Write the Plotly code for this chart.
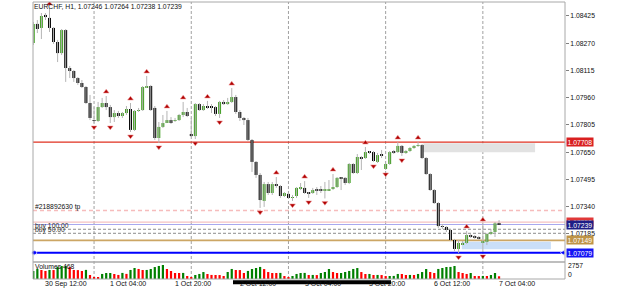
import plotly.graph_objects as go

W, H = 625, 289
FONT = "Liberation Sans, Arial, sans-serif"

title_text = "EURCHF, H1, 1.07246 1.07264 1.07238 1.07239"

# ---- hourly candles (30 Sep 09:00 ... 7 Oct 04:00) ----
opens = [1.08271, 1.08380, 1.08357, 1.08431, 1.08414, 1.08357, 1.08277, 1.08214, 1.08345, 1.08129,
         1.08112, 1.08072, 1.08044, 1.08021, 1.07930, 1.07833, 1.07828, 1.07907, 1.07930, 1.07907,
         1.07850, 1.07873, 1.07856, 1.07873, 1.07896, 1.07777, 1.07885, 1.07890, 1.08021, 1.08027,
         1.07902, 1.07731, 1.07794, 1.07822, 1.07833, 1.07828, 1.07833, 1.07862, 1.07879, 1.07754,
         1.07742, 1.07924, 1.07890, 1.07913, 1.07907, 1.07907, 1.07868, 1.07936, 1.07924, 1.07936,
         1.07964, 1.07879, 1.07845, 1.07833, 1.07720, 1.07595, 1.07521, 1.07373, 1.07469, 1.07418,
         1.07469, 1.07458, 1.07401, 1.07413, 1.07390, 1.07401, 1.07441, 1.07447, 1.07418, 1.07418,
         1.07435, 1.07435, 1.07432, 1.07435, 1.07441, 1.07452, 1.07504, 1.07504, 1.07475, 1.07583,
         1.07532, 1.07623, 1.07617, 1.07651, 1.07651, 1.07595, 1.07634, 1.07555, 1.07583, 1.07651,
         1.07651, 1.07686, 1.07646, 1.07657, 1.07674, 1.07686, 1.07691, 1.07617, 1.07526, 1.07435,
         1.07361, 1.07230, 1.07225, 1.07208, 1.07151, 1.07100, 1.07128, 1.07134, 1.07179, 1.07168,
         1.07168, 1.07134, 1.07140, 1.07185, 1.07196, 1.07246]
highs = [1.08391, 1.08402, 1.08442, 1.08442, 1.08470, 1.08362, 1.08289, 1.08351, 1.08351, 1.08141,
         1.08118, 1.08078, 1.08061, 1.08027, 1.07976, 1.07907, 1.07936, 1.07959, 1.07970, 1.07919,
         1.07890, 1.07885, 1.07879, 1.07913, 1.07930, 1.07890, 1.07902, 1.08027, 1.08084, 1.08033,
         1.07913, 1.07822, 1.07862, 1.07885, 1.07850, 1.07845, 1.07868, 1.07936, 1.07902, 1.07845,
         1.07930, 1.07930, 1.07924, 1.07942, 1.07924, 1.07913, 1.07942, 1.07947, 1.07959, 1.08015,
         1.07976, 1.07890, 1.07850, 1.07845, 1.07725, 1.07600, 1.07532, 1.07481, 1.07481, 1.07481,
         1.07509, 1.07464, 1.07424, 1.07418, 1.07407, 1.07452, 1.07475, 1.07486, 1.07424, 1.07447,
         1.07452, 1.07458, 1.07481, 1.07492, 1.07526, 1.07509, 1.07509, 1.07509, 1.07589, 1.07589,
         1.07640, 1.07629, 1.07680, 1.07657, 1.07657, 1.07646, 1.07663, 1.07589, 1.07657, 1.07663,
         1.07708, 1.07691, 1.07663, 1.07680, 1.07691, 1.07708, 1.07697, 1.07623, 1.07532, 1.07441,
         1.07367, 1.07242, 1.07230, 1.07213, 1.07157, 1.07151, 1.07145, 1.07202, 1.07185, 1.07179,
         1.07174, 1.07242, 1.07191, 1.07213, 1.07253, 1.07264]
lows = [1.08260, 1.08328, 1.08294, 1.08402, 1.08334, 1.08266, 1.08163, 1.08203, 1.08050, 1.08072,
        1.08050, 1.08033, 1.08015, 1.07924, 1.07833, 1.07816, 1.07822, 1.07902, 1.07890, 1.07816,
        1.07822, 1.07845, 1.07845, 1.07862, 1.07765, 1.07771, 1.07879, 1.07885, 1.08015, 1.07885,
        1.07720, 1.07703, 1.07788, 1.07816, 1.07811, 1.07822, 1.07828, 1.07850, 1.07850, 1.07737,
        1.07725, 1.07885, 1.07885, 1.07896, 1.07873, 1.07856, 1.07845, 1.07919, 1.07919, 1.07930,
        1.07868, 1.07828, 1.07805, 1.07714, 1.07538, 1.07504, 1.07333, 1.07339, 1.07407, 1.07407,
        1.07447, 1.07390, 1.07395, 1.07384, 1.07373, 1.07390, 1.07435, 1.07413, 1.07390, 1.07413,
        1.07407, 1.07418, 1.07387, 1.07430, 1.07435, 1.07447, 1.07435, 1.07464, 1.07469, 1.07526,
        1.07526, 1.07549, 1.07612, 1.07640, 1.07595, 1.07589, 1.07617, 1.07549, 1.07578, 1.07640,
        1.07646, 1.07629, 1.07640, 1.07651, 1.07669, 1.07680, 1.07612, 1.07521, 1.07430, 1.07356,
        1.07219, 1.07213, 1.07196, 1.07145, 1.07088, 1.07077, 1.07122, 1.07128, 1.07162, 1.07157,
        1.07151, 1.07083, 1.07122, 1.07179, 1.07168, 1.07238]
closes = [1.08380, 1.08351, 1.08425, 1.08419, 1.08357, 1.08277, 1.08214, 1.08345, 1.08129, 1.08112,
          1.08072, 1.08044, 1.08021, 1.07930, 1.07845, 1.07828, 1.07907, 1.07930, 1.07907, 1.07850,
          1.07873, 1.07856, 1.07873, 1.07896, 1.07777, 1.07885, 1.07890, 1.08021, 1.08027, 1.07890,
          1.07731, 1.07794, 1.07816, 1.07833, 1.07822, 1.07833, 1.07862, 1.07879, 1.07856, 1.07742,
          1.07924, 1.07890, 1.07913, 1.07907, 1.07905, 1.07868, 1.07936, 1.07924, 1.07936, 1.07964,
          1.07879, 1.07845, 1.07833, 1.07720, 1.07595, 1.07521, 1.07378, 1.07469, 1.07418, 1.07469,
          1.07458, 1.07401, 1.07418, 1.07390, 1.07395, 1.07447, 1.07447, 1.07418, 1.07415, 1.07435,
          1.07432, 1.07433, 1.07435, 1.07441, 1.07452, 1.07504, 1.07498, 1.07475, 1.07583, 1.07532,
          1.07623, 1.07617, 1.07651, 1.07648, 1.07600, 1.07634, 1.07632, 1.07583, 1.07651, 1.07650,
          1.07686, 1.07646, 1.07657, 1.07674, 1.07686, 1.07691, 1.07617, 1.07526, 1.07435, 1.07361,
          1.07230, 1.07225, 1.07208, 1.07151, 1.07100, 1.07134, 1.07134, 1.07179, 1.07168, 1.07165,
          1.07157, 1.07145, 1.07185, 1.07196, 1.07246, 1.07239]
volumes = [1380, 1720, 1550, 1390, 1560, 1540, 2070, 2240, 2250, 2060,
           1560, 1530, 1380, 1570, 690, 350, 340, 870, 1030, 1040,
           860, 700, 1050, 880, 1560, 1900, 1730, 1550, 1560, 1720,
           2060, 2250, 2410, 1720, 1380, 1040, 1030, 1050, 520, 340,
           690, 870, 1200, 860, 700, 690, 680, 520, 1210, 1730,
           1550, 1540, 1040, 1390, 1720, 1900, 2080, 1710, 1200, 1040,
           1030, 1050, 510, 350, 520, 870, 1040, 1050, 690, 700,
           680, 1040, 1210, 1720, 1200, 1030, 1040, 1210, 1390, 1730,
           1890, 1200, 860, 870, 690, 700, 680, 510, 520, 530,
           870, 860, 690, 700, 690, 870, 1200, 1720, 1210, 1040,
           1730, 1900, 2070, 2080, 2240, 1210, 1040, 870, 1030, 520,
           510, 530, 520, 690, 1040, 468]

fractal_up = [4, 18, 24, 28, 33, 37, 43, 49, 60, 67, 74, 82, 90, 95, 107, 111]
fractal_down = [15, 19, 24, 31, 40, 46, 56, 64, 68, 72, 84, 87, 91, 105, 111]

time_tick_idx = [3, 19, 35, 51, 67, 83, 99, 115]
time_tick_text = ["30 Sep 12:00", "1 Oct 04:00", "1 Oct 20:00", "2 Oct 12:00",
                  "3 Oct 04:00", "3 Oct 20:00", "6 Oct 12:00", "7 Oct 04:00"]
day_start_idx = [15, 39, 63, 87, 111]

price_ticks = [1.08425, 1.08270, 1.08115, 1.07960, 1.07805, 1.07650, 1.07495, 1.07340, 1.07185]

red_level = 1.07708
tp_level = 1.07318
ask_level = 1.07252
bid_level = 1.07239
order_levels = [1.07212, 1.07189]
tan_level = 1.07149
blue_level = 1.07079

gray_zone = (96.3, 123.9, 1.07650, 1.07701)
blue_zone = (105.8, 127.8, 1.07098, 1.07141)

volume_max_label = 2757

# ---- geometry / styles ----
X0, X1 = 33, 565
Y_TOP, Y_DIV, Y_BOT = 2, 262, 279
FIRST_BAR_PX, BAR_STEP_PX = 33.3, 4.05
PRICE_TOP, PRICE_BOT = 1.085046, 1.070257
VOL_TOP = 2930

GREEN = "#3f9f1f"
BLACK = "#000000"
WICK = "#b4b4b4"
GRID = "#a0a0a0"
FRAC = "#b00000"
FS = 6.8


def px(x):
    return x / W


def py(y):
    return 1 - y / H


n = len(opens)
xs = list(range(n))
x_range = [(X0 - FIRST_BAR_PX) / BAR_STEP_PX, (X1 - FIRST_BAR_PX) / BAR_STEP_PX]

fig = go.Figure()

# wicks
wx, wy = [], []
for i in xs:
    wx += [i, i, None]
    wy += [lows[i], highs[i], None]
fig.add_trace(go.Scatter(x=wx, y=wy, mode="lines", line=dict(color=WICK, width=1),
                         hoverinfo="skip", yaxis="y"))

# bodies
base = [min(o, c) for o, c in zip(opens, closes)]
hgt = [max(abs(c - o), 0.00005) for o, c in zip(opens, closes)]
bcol = [GREEN if c > o else BLACK for o, c in zip(opens, closes)]
fig.add_trace(go.Bar(x=xs, y=hgt, base=base, width=0.72, marker=dict(color=bcol, line=dict(width=0)),
                     yaxis="y", hoverinfo="skip"))

# fractals
pad = 0.00024
fig.add_trace(go.Scatter(x=fractal_up, y=[highs[i] + pad for i in fractal_up], mode="markers",
                         marker=dict(symbol="triangle-up", size=5, color=FRAC,
                                     line=dict(color="rgba(240,150,150,0.9)", width=0.6)),
                         yaxis="y", hoverinfo="skip"))
fig.add_trace(go.Scatter(x=fractal_down, y=[lows[i] - pad for i in fractal_down], mode="markers",
                         marker=dict(symbol="triangle-down", size=5, color=FRAC,
                                     line=dict(color="rgba(240,150,150,0.9)", width=0.6)),
                         yaxis="y", hoverinfo="skip"))

# blue line end markers
fig.add_trace(go.Scatter(x=[x_range[0] + 0.3, x_range[1] - 0.4], y=[blue_level, blue_level], mode="markers",
                         marker=dict(symbol=["circle", "triangle-left"], size=[5, 6], color="#0000ff"),
                         cliponaxis=False, yaxis="y", hoverinfo="skip"))

# volumes
vcol = ["#008000"] + ["#008000" if volumes[i] > volumes[i - 1] else "#ff0000" for i in range(1, n)]
fig.add_trace(go.Bar(x=xs, y=volumes, width=0.55, marker=dict(color=vcol, line=dict(width=0)),
                     yaxis="y2", hoverinfo="skip"))

shapes = []
# zones
gx0, gx1, gy0, gy1 = gray_zone
shapes.append(dict(type="rect", xref="x", yref="y", x0=gx0, x1=gx1, y0=gy0, y1=gy1,
                   fillcolor="#e2e2e2", line=dict(width=0), layer="below"))
bx0, bx1, by0, by1 = blue_zone
shapes.append(dict(type="rect", xref="x", yref="y", x0=bx0, x1=bx1, y0=by0, y1=by1,
                   fillcolor="#cadff8", line=dict(width=0), layer="below"))

# vertical day grid
for d in day_start_idx:
    shapes.append(dict(type="line", xref="x", yref="paper", x0=d, x1=d, y0=py(Y_BOT), y1=py(Y_TOP),
                       line=dict(color=GRID, width=1, dash="3px,2px"), layer="below"))


def hline(level, color, width=1, dash="solid"):
    shapes.append(dict(type="line", xref="paper", yref="y", x0=px(X0), x1=px(X1), y0=level, y1=level,
                       line=dict(color=color, width=width, dash=dash), layer="below"))


hline(tp_level, "#f6bcbc", 1.5, "4px,3px")
hline(ask_level, "#f4c2c2", 1.2)
hline(bid_level, "#a8a8ee", 1.2)
for lv in order_levels:
    hline(lv, "#8c8c8c", 1, "3px,2px")
hline(tan_level, "#cca664", 1.8)
hline(blue_level, "#0000ff", 2)
hline(red_level, "#e03020", 1.3)

# frame
shapes.append(dict(type="rect", xref="paper", yref="paper", x0=px(X0), x1=px(X1), y0=py(Y_BOT), y1=py(Y_TOP),
                   line=dict(color="#a8a8a8", width=1), fillcolor="rgba(0,0,0,0)", layer="above"))
shapes.append(dict(type="line", xref="paper", yref="paper", x0=px(X0), x1=px(X1), y0=py(Y_DIV), y1=py(Y_DIV),
                   line=dict(color="#a8a8a8", width=1.5), layer="above"))

annotations = []


def text(x, y, s, size=FS, color="#101010", xanchor="left"):
    annotations.append(dict(xref="paper", yref="paper", x=px(x), y=py(y), text=s, showarrow=False,
                            xanchor=xanchor, yanchor="middle", font=dict(family=FONT, size=size, color=color),
                            borderpad=0))


text(33, 6.5, title_text)
text(34, 207, "#218892630 tp")
text(34, 225.5, "buy 100.00", color="#303030")
text(34, 230, "buy 50.00", color="#303030")
text(34, 266, "Volumes 468")
text(567, 265, f"{volume_max_label}")
text(567, 274, "0")

for ti, tt in zip(time_tick_idx, time_tick_text):
    annotations.append(dict(xref="x", yref="paper", x=ti, y=py(283.5), text=tt, showarrow=False,
                            xanchor="left", yanchor="middle", xshift=-1,
                            font=dict(family=FONT, size=7, color="#101010"), borderpad=0))

# redaction scribble over some time labels
shapes.append(dict(type="line", xref="paper", yref="paper", x0=px(233), x1=px(391), y0=py(282.3), y1=py(282.3),
                   line=dict(color="#000000", width=4), layer="above"))

# coloured price labels on the right axis
for val, col in [(red_level, "#d92020"), (ask_level, "#e03838"), (bid_level, "#1e1e86"),
                 (tan_level, "#bf9446"), (blue_level, "#1414f4")]:
    annotations.append(dict(xref="paper", yref="y", x=px(566), y=val, text=f"{val:.5f}", showarrow=False,
                            xanchor="left", yanchor="middle", bgcolor=col, borderpad=0.5,
                            font=dict(family=FONT, size=FS, color="#ffffff")))

fig.update_layout(
    width=W, height=H, margin=dict(l=0, r=0, t=0, b=0),
    paper_bgcolor="white", plot_bgcolor="white", showlegend=False, barmode="overlay",
    xaxis=dict(domain=[px(X0), px(X1)], range=x_range, showgrid=False, zeroline=False,
               showticklabels=False, ticks="", showline=False, anchor="y2", fixedrange=True),
    yaxis=dict(domain=[py(Y_DIV), py(Y_TOP)], range=[PRICE_BOT, PRICE_TOP], side="right", anchor="x",
               tickvals=price_ticks, ticktext=[f"{v:.5f}" for v in price_ticks], ticks="outside",
               ticklen=3, tickcolor="#808080", showgrid=False, zeroline=False, showline=False,
               tickfont=dict(family=FONT, size=FS, color="#101010")),
    yaxis2=dict(domain=[py(Y_BOT), py(Y_DIV)], range=[0, VOL_TOP], anchor="x", showgrid=False,
                zeroline=False, showticklabels=False, ticks="", showline=False),
    shapes=shapes, annotations=annotations,
)

fig.write_html("out.html")
